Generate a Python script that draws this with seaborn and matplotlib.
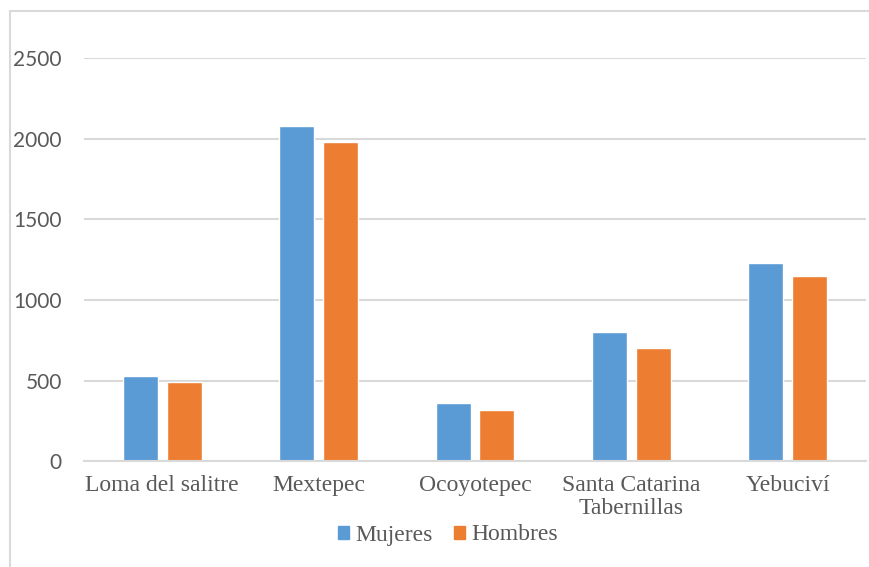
import pandas as pd
import seaborn as sns
import matplotlib.pyplot as plt
from matplotlib.patches import Rectangle
from matplotlib.lines import Line2D

# --- data ---
localidades = ["Loma del salitre", "Mextepec", "Ocoyotepec",
               "Santa Catarina\nTabernillas", "Yebuciví"]
mujeres = [529, 2077, 363, 800, 1228]
hombres = [490, 1978, 316, 704, 1149]
series = ["Mujeres", "Hombres"]

df = pd.DataFrame({
    "Localidad": localidades * 2,
    "Sexo": [series[0]] * len(localidades) + [series[1]] * len(localidades),
    "Valor": mujeres + hombres,
})

sns.set_theme(style="white")
plt.rcParams["font.family"] = ["DejaVu Sans"]

fig = plt.figure(figsize=(8.7, 5.67), dpi=100)
ax = fig.add_axes([84 / 870, 1 - 461.3 / 567, 782 / 870, 403.3 / 567])

# chart frame: only top and left edges are visible (picture is cropped)
fx, fy = 10 / 870, 1 - 11 / 567
fig.lines.append(Line2D([fx, 1.05], [fy, fy], transform=fig.transFigure,
                        color="#D9D9D9", linewidth=1.5))
fig.lines.append(Line2D([fx, fx], [-0.05, fy], transform=fig.transFigure,
                        color="#D9D9D9", linewidth=1.5))

sns.barplot(data=df, x="Localidad", y="Valor", hue="Sexo",
            palette=["#5B9BD5", "#ED7D31"], width=0.56, gap=0.2,
            saturation=1, ax=ax, legend=False)

ax.set_ylim(0, 2500)
ax.set_yticks([0, 500, 1000, 1500, 2000, 2500])
ax.yaxis.grid(True, color="#D9D9D9", linewidth=1.5)
ax.set_axisbelow(True)
for s in ["top", "right", "left"]:
    ax.spines[s].set_visible(False)
ax.spines["bottom"].set_color("#D9D9D9")
ax.spines["bottom"].set_linewidth(1.5)
ax.set_xlabel("")
ax.set_ylabel("")
ax.tick_params(axis="both", length=0)
ax.tick_params(axis="y", pad=16, labelsize=15, labelcolor="#595959")
ax.tick_params(axis="x", pad=10, labelsize=17, labelcolor="#595959")
for t in ax.get_yticklabels():
    t.set_family("Lato")
for t in ax.get_xticklabels():
    t.set_family("Liberation Serif")
    t.set_linespacing(1.12)

# legend below the plot
handles = [Rectangle((0, 0), 1, 1, color=c) for c in ["#5B9BD5", "#ED7D31"]]
leg = fig.legend(handles, series, loc="center", bbox_to_anchor=(448 / 870, 1 - 535 / 567),
                 ncol=2, frameon=False, handlelength=0.47, handleheight=0.47,
                 handletextpad=0.25, columnspacing=0.9,
                 prop={"family": "Liberation Serif", "size": 17})
for t in leg.get_texts():
    t.set_color("#595959")

fig.savefig("out.png", dpi=100)
